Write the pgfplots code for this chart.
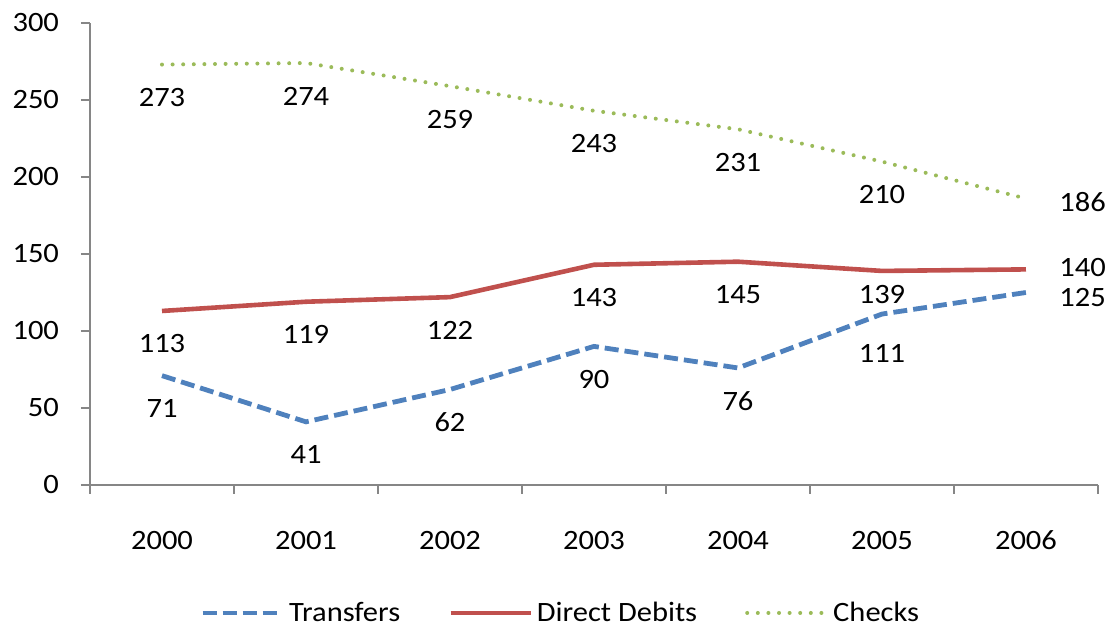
\documentclass[border=0pt]{standalone}
\usepackage{fontspec}
\setmainfont{Carlito}[FakeStretch=1.09]
\usepackage{pgfplots}
\pgfplotsset{compat=1.18}
\definecolor{cblue}{HTML}{4F81BD}
\definecolor{cred}{HTML}{C0504D}
\definecolor{cgreen}{HTML}{9BBB59}
\definecolor{caxis}{HTML}{868686}
\newcommand{\lbl}{\fontsize{14pt}{16pt}\selectfont}
\begin{document}
\begin{tikzpicture}
\useasboundingbox (0,0) rectangle (552.5pt,315pt);
\begin{axis}[
  at={(45pt,72.5pt)}, anchor=south west,
  scale only axis, width=504pt, height=231pt,
  xmin=-0.5, xmax=6.5, ymin=0, ymax=300,
  axis lines*=left,
  axis line style={caxis, line width=0.8pt},
  xtick={0,...,6},
  xticklabels={2000,2001,2002,2003,2004,2005,2006},
  major x tick style={draw=none},
  minor xtick={-0.5,0.5,1.5,2.5,3.5,4.5,5.5,6.5},
  ytick={0,50,...,300},
  tick align=outside,
  major tick length=4.5pt, minor tick length=4.5pt,
  tick style={caxis, line width=0.8pt},
  /pgf/number format/assume math mode=true,
  tick label style={font=\lbl},
  xticklabel style={yshift=-15pt},
  yticklabel style={xshift=-7.5pt},
  every node near coord/.append style={font=\lbl, anchor=center, yshift=-16.5pt},
  legend style={at={(0.468,-0.277)}, anchor=center, draw=none, font=\lbl,
    legend columns=3, /tikz/every even column/.append style={column sep=22pt}},
  legend image code/.code={\draw[#1] (0pt,0pt) -- (40pt,0pt);},
  clip=false,
]
\addplot[cblue, line width=2.4pt, dash pattern=on 7pt off 3pt] coordinates {(0,71)(1,41)(2,62)(3,90)(4,76)(5,111)(6,125)};
\addlegendentry{Transfers}
\addplot[cred, line width=2.3pt] coordinates {(0,113)(1,119)(2,122)(3,143)(4,145)(5,139)(6,140)};
\addlegendentry{Direct Debits}
\addplot[cgreen, line width=2pt, line cap=round, dash pattern=on 0pt off 5.3pt] coordinates {(0,273)(1,274)(2,259)(3,243)(4,231)(5,210)(6,186)};
\addlegendentry{Checks}
% labels below points
\addplot[draw=none, mark=none, nodes near coords, forget plot] coordinates {(0,71)(1,41)(2,62)(3,90)(4,76)};
\addplot[draw=none, mark=none, nodes near coords, forget plot,
  every node near coord/.append style={yshift=-3pt}] coordinates {(5,111)};
\addplot[draw=none, mark=none, nodes near coords, forget plot] coordinates {(0,113)(1,119)(2,122)(3,143)(4,145)};
\addplot[draw=none, mark=none, nodes near coords, forget plot,
  every node near coord/.append style={yshift=4.5pt}] coordinates {(5,139)};
\addplot[draw=none, mark=none, nodes near coords, forget plot] coordinates {(0,273)(1,274)(2,259)(3,243)(4,231)(5,210)};
% labels right of last points
\addplot[draw=none, mark=none, nodes near coords, forget plot,
  every node near coord/.append style={anchor=west, inner sep=0pt, yshift=15pt, xshift=16.5pt}] coordinates {(6,186)};
\addplot[draw=none, mark=none, nodes near coords, forget plot,
  every node near coord/.append style={anchor=west, inner sep=0pt, yshift=13.8pt, xshift=16.5pt}] coordinates {(6,125)};
\addplot[draw=none, mark=none, nodes near coords, forget plot,
  every node near coord/.append style={anchor=west, inner sep=0pt, yshift=17.3pt, xshift=16.5pt}] coordinates {(6,140)};
\end{axis}
\end{tikzpicture}
\end{document}
